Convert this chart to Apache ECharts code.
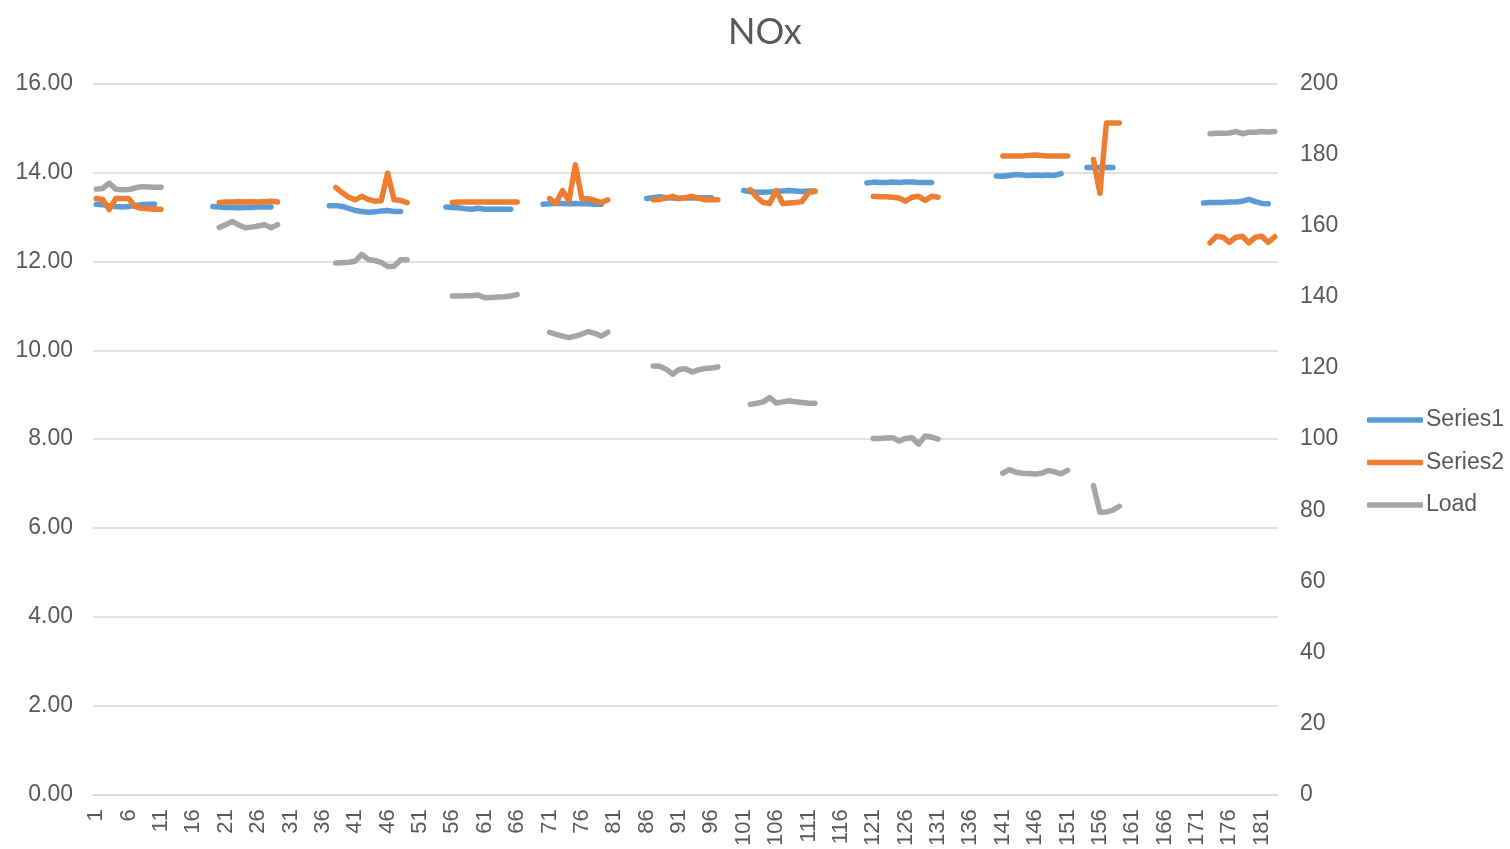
<!DOCTYPE html>
<html>
<head>
<meta charset="utf-8">
<script src="https://cdn.jsdelivr.net/npm/echarts@6/dist/echarts.min.js"></script>
<style>
html,body{margin:0;padding:0;background:#fff;}
#chart{width:1510px;height:849px;}
</style>
</head>
<body>
<div id="chart"></div>
<script>
const N = null;
const categories = Array.from({length: 183}, (_, i) => String(i + 1));

const series1 = [
13.29,13.28,13.26,13.24,13.23,13.24,13.26,13.28,13.29,13.29,
N,N,N,N,N,N,N,N,
13.24,13.23,13.22,13.22,13.21,13.22,13.22,13.23,13.23,13.23,
N,N,N,N,N,N,N,N,
13.26,13.26,13.24,13.20,13.15,13.13,13.11,13.12,13.14,13.15,13.13,13.13,
N,N,N,N,N,N,
13.23,13.22,13.21,13.19,13.18,13.20,13.18,13.18,13.18,13.18,13.18,
N,N,N,N,
13.29,13.30,13.31,13.31,13.30,13.31,13.30,13.30,13.29,13.29,
N,N,N,N,N,N,
13.42,13.44,13.46,13.44,13.43,13.42,13.43,13.43,13.44,13.44,13.44,
N,N,N,N,
13.60,13.58,13.56,13.56,13.57,13.58,13.59,13.60,13.59,13.58,13.59,13.59,
N,N,N,N,N,N,N,
13.77,13.79,13.78,13.78,13.79,13.78,13.79,13.79,13.78,13.78,13.78,
N,N,N,N,N,N,N,N,N,
13.93,13.92,13.94,13.96,13.95,13.94,13.95,13.94,13.95,13.94,13.98,
N,N,N,
14.12,14.12,14.12,14.12,14.12,
N,N,N,N,N,N,N,N,N,N,N,N,N,
13.32,13.33,13.33,13.33,13.34,13.34,13.36,13.40,13.35,13.31,13.30,
N
];

const series2 = [
13.42,13.40,13.17,13.42,13.42,13.42,13.24,13.20,13.19,13.18,13.18,
N,N,N,N,N,N,N,N,
13.33,13.34,13.34,13.35,13.34,13.35,13.34,13.35,13.36,13.34,
N,N,N,N,N,N,N,N,
13.67,13.55,13.45,13.39,13.47,13.40,13.36,13.37,13.99,13.39,13.38,13.33,
N,N,N,N,N,N,
13.33,13.34,13.34,13.34,13.34,13.34,13.34,13.34,13.34,13.34,13.34,
N,N,N,N,
13.42,13.31,13.60,13.37,14.18,13.41,13.42,13.38,13.33,13.39,
N,N,N,N,N,N,
13.39,13.40,13.43,13.47,13.42,13.44,13.47,13.43,13.39,13.39,13.39,
N,N,N,N,
13.62,13.45,13.33,13.31,13.60,13.31,13.32,13.33,13.35,13.56,13.58,
N,N,N,N,N,N,N,N,
13.47,13.46,13.46,13.45,13.43,13.36,13.45,13.47,13.38,13.47,13.45,
N,N,N,N,N,N,N,N,N,
14.38,14.38,14.38,14.38,14.39,14.40,14.39,14.38,14.38,14.38,14.38,
N,N,N,
14.30,13.54,15.12,15.12,15.12,
N,N,N,N,N,N,N,N,N,N,N,N,N,
12.42,12.57,12.55,12.43,12.55,12.57,12.42,12.55,12.57,12.43,12.56
];

const load = [
170.4,170.6,172.1,170.4,170.2,170.3,170.7,171.1,171.0,170.9,170.9,
N,N,N,N,N,N,N,N,
159.6,160.4,161.3,160.3,159.5,159.7,160.0,160.4,159.5,160.4,
N,N,N,N,N,N,N,N,
149.6,149.7,149.8,150.1,152.0,150.6,150.3,149.8,148.6,148.7,150.5,150.5,
N,N,N,N,N,N,
140.3,140.3,140.4,140.4,140.6,139.8,139.9,140.0,140.1,140.3,140.7,
N,N,N,N,
130.1,129.5,129.0,128.6,129.0,129.6,130.3,129.8,129.0,130.1,
N,N,N,N,N,N,
120.6,120.5,119.7,118.3,119.6,119.8,118.9,119.5,119.9,120.0,120.3,
N,N,N,N,
109.8,110.1,110.5,111.7,110.2,110.5,110.8,110.5,110.3,110.1,110.1,
N,N,N,N,N,N,N,N,
100.2,100.2,100.3,100.4,99.5,100.2,100.4,98.6,100.9,100.6,100.0,
N,N,N,N,N,N,N,N,N,
90.4,91.4,90.7,90.4,90.3,90.2,90.4,91.2,90.8,90.2,91.2,
N,N,N,
86.9,79.4,79.5,80.0,81.1,
N,N,N,N,N,N,N,N,N,N,N,N,N,
186.0,186.1,186.1,186.2,186.6,186.0,186.4,186.4,186.6,186.5,186.6
];

const seriesNames = ['Series1', 'Series2', 'Load'];
const colors = ['#5B9BD5', '#ED7D31', '#A5A5A5'];

const font = 'Liberation Sans, Arial, sans-serif';
const textColor = '#595959';

const chart = echarts.init(document.getElementById('chart'), null, {renderer: 'canvas'});

function lineSeries(name, data, color, yIndex) {
  return {
    name: name,
    type: 'line',
    data: data,
    yAxisIndex: yIndex,
    symbol: 'none',
    showSymbol: false,
    connectNulls: false,
    smooth: false,
    color: color,
    lineStyle: {width: 5.5, color: color, cap: 'round', join: 'round'},
    emphasis: {disabled: true},
    animation: false
  };
}

chart.setOption({
  animation: false,
  title: {
    text: 'NOx',
    left: 723,
    top: 9,
    textStyle: {fontFamily: 'Lato, sans-serif', fontSize: 36, fontWeight: 'normal', color: textColor}
  },
  legend: {
    orient: 'vertical',
    left: 1362,
    top: 403,
    itemWidth: 56,
    itemHeight: 5.5,
    itemGap: 18.5,
    icon: 'roundRect',
    data: seriesNames,
    textStyle: {fontFamily: font, fontSize: 23, color: textColor, lineHeight: 24, padding: [0, 0, 0, -2]}
  },
  grid: {left: 93, right: 232, top: 84, bottom: 53, containLabel: false},
  xAxis: {
    type: 'category',
    data: categories,
    boundaryGap: true,
    axisLine: {show: true, lineStyle: {color: '#D9D9D9', width: 1.5}},
    axisTick: {show: false},
    axisLabel: {
      interval: 4,
      rotate: 90,
      margin: 15,
      fontFamily: font,
      fontSize: 22,
      color: textColor
    },
    splitLine: {show: false}
  },
  yAxis: [
    {
      type: 'value',
      min: 0,
      max: 16,
      interval: 2,
      position: 'left',
      axisLine: {show: false},
      axisTick: {show: false},
      axisLabel: {
        margin: 20,
        fontFamily: font,
        fontSize: 23,
        color: textColor,
        formatter: v => v.toFixed(2)
      },
      splitLine: {show: true, lineStyle: {color: '#D9D9D9', width: 1.5}}
    },
    {
      type: 'value',
      min: 0,
      max: 200,
      interval: 20,
      position: 'right',
      axisLine: {show: false},
      axisTick: {show: false},
      axisLabel: {margin: 22, fontFamily: font, fontSize: 23, color: textColor},
      splitLine: {show: false}
    }
  ],
  series: [
    lineSeries(seriesNames[0], series1, colors[0], 0),
    lineSeries(seriesNames[1], series2, colors[1], 0),
    lineSeries(seriesNames[2], load, colors[2], 1)
  ]
});
</script>
</body>
</html>
